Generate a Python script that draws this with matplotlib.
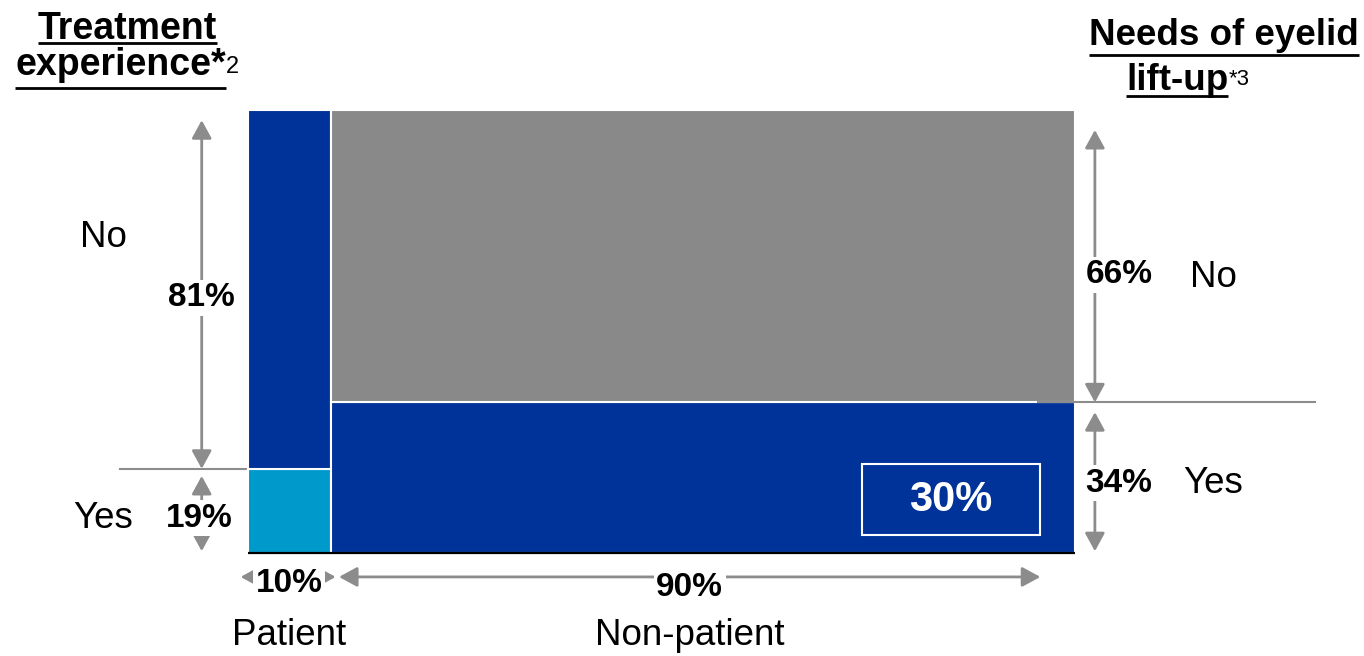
import matplotlib
matplotlib.use("Agg")
import matplotlib.pyplot as plt
from matplotlib.patches import Rectangle

plt.rcParams["font.family"] = ["Liberation Sans", "DejaVu Sans"]

NAVY = "#003399"
CYAN = "#0099cc"
GREY = "#898989"
ARROW = "#8c8c8c"
INK = "black"

# mosaic shares, in percent
groups = ["Patient", "Non-patient"]
group_share = [10, 90]
treat_labels = ["Yes", "No"]          # patients, bottom -> top
treat_share = [19, 81]
lift_labels = ["Yes", "No"]           # non-patients, bottom -> top
lift_share = [34, 66]
overlap_share = 30                    # highlighted in the non-patient "Yes" cell


def span_arrow(ax, x0, y0, x1, y1):
    ax.annotate(
        "", xy=(x1, y1), xytext=(x0, y0),
        arrowprops=dict(arrowstyle="<|-|>,head_length=0.55,head_width=0.3",
                        color=ARROW, lw=2, shrinkA=0, shrinkB=0,
                        mutation_scale=20),
        zorder=3,
    )


def pct_label(ax, x, y, value, size=24):
    ax.text(x, y, f"{value}%", ha="center", va="center", fontsize=size,
            fontweight="bold", color=INK, zorder=5,
            bbox=dict(boxstyle="square,pad=0.08", fc="white", ec="none"))


fig = plt.figure(figsize=(13.64, 6.56), dpi=100)
ax = fig.add_axes([0, 0, 1, 1])
ax.set_xlim(-29.99, 134.94)
ax.set_ylim(-23.25, 124.83)
ax.axis("off")

w_pat, w_non = group_share
t_yes, t_no = treat_share
l_yes, l_no = lift_share

# mosaic cells
cells = [
    (0, 0, w_pat, t_yes, CYAN),
    (0, t_yes, w_pat, t_no, NAVY),
    (w_pat, 0, w_non, l_yes, NAVY),
    (w_pat, l_yes, w_non, l_no, GREY),
]
for x, y, w, h, c in cells:
    ax.add_patch(Rectangle((x, y), w, h, facecolor=c, edgecolor="white",
                           linewidth=1.5, zorder=2))
ax.plot([0, 100], [0, 0], color=INK, lw=1.6, zorder=4,
        solid_capstyle="butt")

# guide lines at the split heights
ax.plot([-15.5, 0], [t_yes, t_yes], color=ARROW, lw=1.5, zorder=1)
ax.plot([95.5, 129.0], [l_yes, l_yes], color=ARROW, lw=1.5, zorder=3)

# treatment experience (left)
span_arrow(ax, -5.6, t_yes, -5.6, 97.7)
pct_label(ax, -5.6, 57.6, t_no)
span_arrow(ax, -5.6, 0.4, -5.6, 17.4)
pct_label(ax, -5.9, 7.9, t_yes)
ax.text(-17.5, 71.3, treat_labels[1], ha="center", va="center", fontsize=26.5)
ax.text(-17.5, 7.9, treat_labels[0], ha="center", va="center", fontsize=26.5)

# eyelid lift-up needs (right)
span_arrow(ax, 102.4, l_yes, 102.4, 95.5)
pct_label(ax, 105.3, 62.8, l_no)
span_arrow(ax, 102.4, 0.4, 102.4, 31.8)
pct_label(ax, 105.3, 15.8, l_yes)
ax.text(116.7, 62.3, lift_labels[1], ha="center", va="center", fontsize=26.5)
ax.text(116.7, 15.8, lift_labels[0], ha="center", va="center", fontsize=26.5)

# group widths (bottom)
arrow_y = -5.4
span_arrow(ax, -0.9, arrow_y, w_pat + 0.6, arrow_y)
pct_label(ax, w_pat / 2, -6.8, w_pat)
non_x0, non_x1 = w_pat + 1.0, 95.8
span_arrow(ax, non_x0, arrow_y, non_x1, arrow_y)
pct_label(ax, (non_x0 + non_x1) / 2, -7.9, w_non)
ax.text(w_pat / 2, -18.7, groups[0], ha="center", va="center", fontsize=26.5)
ax.text((non_x0 + non_x1) / 2, -18.7, groups[1], ha="center", va="center",
        fontsize=26.5)

# highlighted overlap
ax.add_patch(Rectangle((74.2, 4.1), 21.6, 16.0, facecolor="none",
                       edgecolor="white", linewidth=1.5, zorder=4))
ax.text(85.0, 12.0, f"{overlap_share}%", ha="center", va="center",
        fontsize=30, fontweight="bold", color="white", zorder=5)

# underlined headings with footnote marks
t1 = ax.text(-14.6, 116.0, "Treatment", ha="center", va="baseline",
             fontsize=27, fontweight="bold")
t2 = ax.text(-28.17, 107.9, "experience*", ha="left", va="baseline",
             fontsize=27, fontweight="bold")
t3 = ax.text(118.0, 114.7, "Needs of eyelid", ha="center", va="baseline",
             fontsize=26.5, fontweight="bold")
t4 = ax.text(106.17, 104.5, "lift-up", ha="left", va="baseline",
             fontsize=26.5, fontweight="bold")

fig.canvas.draw()
renderer = fig.canvas.get_renderer()
inv = ax.transData.inverted()


def right_edge(txt):
    bb = txt.get_window_extent(renderer)
    return inv.transform((bb.x1, 0))[0]


def underline(txt, y):
    bb = txt.get_window_extent(renderer)
    (x0, _), (x1, _) = inv.transform([(bb.x0, 0), (bb.x1, 0)])
    ax.plot([x0, x1], [y, y], color=INK, lw=2, solid_capstyle="butt")


underline(t1, 115.1)
underline(t2, 105.0)
underline(t3, 112.4)
underline(t4, 103.2)
ax.text(right_edge(t2), 108.4, "2", ha="left", va="baseline", fontsize=17)
ax.text(right_edge(t4), 105.6, "*3", ha="left", va="baseline", fontsize=16)

fig.savefig("out.png", dpi=100)
plt.close(fig)
